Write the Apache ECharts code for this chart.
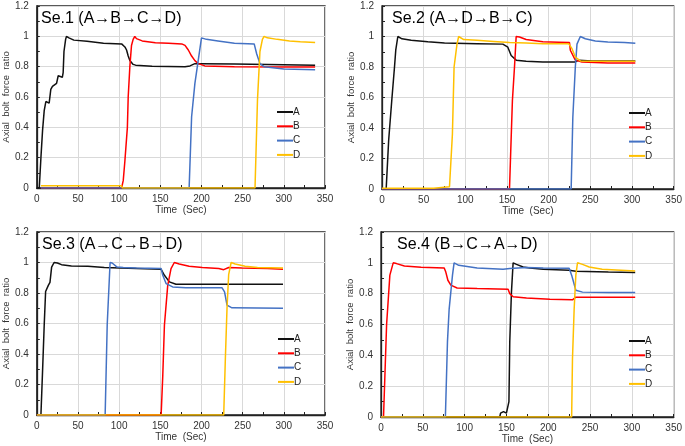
<!DOCTYPE html>
<html>
<head>
<meta charset="utf-8">
<script src="https://cdn.jsdelivr.net/npm/echarts@6/dist/echarts.min.js"></script>
<style>html,body{margin:0;padding:0;background:#fff;}#c{width:685px;height:446px;}</style>
</head>
<body>
<div id="c"></div>
<script>
// ---- data ----
const seriesNames = ['A', 'B', 'C', 'D'];
const panelTitles = ['Se.1 (A\u2192B\u2192C\u2192D)', 'Se.2 (A\u2192D\u2192B\u2192C)', 'Se.3 (A\u2192C\u2192B\u2192D)', 'Se.4 (B\u2192C\u2192A\u2192D)'];
const xName = 'Time  (Sec)';
const yName = 'Axial  bolt  force  ratio';

const s1A = [[0,0],[3,0],[5,0.2],[7,0.38],[9,0.51],[11,0.57],[13,0.57],[15,0.56],[17,0.65],[19,0.67],[21,0.68],[24,0.69],[26,0.74],[28,0.74],[31,0.73],[32,0.76],[33,0.9],[35,0.98],[36,1.0],[39,0.99],[45,0.975],[61,0.968],[81,0.955],[103,0.95],[107,0.93],[109,0.91],[111,0.87],[113,0.84],[117,0.815],[120,0.81],[140,0.803],[180,0.8],[186,0.805],[192,0.82],[200,0.82],[240,0.818],[280,0.815],[338,0.81]];
const s1B = [[5,0],[103,0],[105,0.05],[107,0.18],[109,0.18],[110,0.4],[111,0.6],[113,0.8],[115,0.94],[117,0.98],[119,1.0],[121,0.985],[128,0.97],[144,0.957],[160,0.955],[176,0.95],[180,0.94],[184,0.91],[188,0.87],[192,0.84],[196,0.82],[204,0.805],[240,0.8],[300,0.797],[338,0.797]];
const s1C = [[5,0],[185,0],[188,0.47],[192,0.69],[196,0.84],[200,0.99],[202,1.0],[206,0.98],[220,0.97],[240,0.955],[264,0.95],[267,0.885],[271,0.82],[276,0.8],[300,0.785],[338,0.78]];
const s1D = [[5,0.015],[103,0.015],[104,0],[265,0],[268,0.58],[271,0.9],[274,0.98],[276,1.0],[280,0.99],[292,0.98],[307,0.97],[320,0.965],[338,0.96]];

const s2A = [[0,0],[5,0],[8,0.32],[10,0.33],[12,0.6],[15,0.8],[16.5,0.91],[19,1.0],[24,0.985],[35,0.975],[55,0.965],[75,0.957],[114,0.953],[145,0.95],[151,0.93],[155,0.875],[161,0.845],[173,0.837],[193,0.833],[232,0.833],[236,0.845],[252,0.84],[304,0.84]];
const s2B = [[0,0],[153,0],[154.5,0.25],[156.5,0.58],[159,0.8],[161,1.0],[165,0.997],[173,0.98],[193,0.965],[212,0.963],[225,0.96],[226,0.91],[232,0.845],[240,0.833],[271,0.826],[304,0.826]];
const s2C = [[0,0],[227,0],[229,0.47],[232,0.8],[234,0.95],[238,1.0],[244,0.985],[256,0.97],[271,0.964],[291,0.96],[304,0.955]];
const s2D = [[0,0.005],[62,0.005],[63,0.015],[81,0.015],[84.5,0.36],[86.5,0.8],[90,0.95],[92,1.0],[98,0.98],[114,0.975],[134,0.968],[153,0.96],[173,0.957],[193,0.953],[224,0.953],[228,0.92],[232,0.865],[238,0.84],[252,0.837],[304,0.837]];

const s3A = [[0,0],[5,0],[6.8,0.26],[9,0.59],[10.7,0.81],[14,0.85],[16,0.87],[18,0.97],[21,1.0],[25,0.997],[30,0.986],[42,0.977],[62,0.975],[82,0.967],[121,0.96],[151,0.955],[155,0.916],[161,0.873],[169,0.857],[201,0.857],[299,0.857]];
const s3B = [[0,0],[151,0],[153,0.26],[155,0.59],[159,0.85],[163,0.96],[167,1.0],[173,0.99],[185,0.975],[201,0.967],[221,0.96],[227,0.953],[233,0.967],[249,0.964],[280,0.96],[299,0.955]];
const s3C = [[0,0],[83,0],[85.5,0.59],[89,1.0],[91.5,0.997],[97.5,0.97],[105,0.967],[121,0.964],[151,0.96],[153,0.916],[157,0.862],[165,0.84],[181,0.834],[225,0.834],[228,0.807],[231,0.72],[237,0.703],[299,0.70]];
const s3D = [[0,0],[227,0],[229,0.37],[231,0.7],[233,0.92],[236,1.0],[241,0.99],[253,0.975],[268,0.967],[299,0.964]];

const s4A = [[0,0],[142,0],[143,0.025],[146.5,0.035],[150,0.025],[152,0.035],[153,0.1],[154,0.49],[156,0.81],[158,1.0],[162,0.99],[170,0.973],[178,0.967],[194,0.958],[225,0.952],[233,0.945],[272,0.94],[304,0.937]];
const s4B = [[0,0],[3,0],[6.7,0.6],[10.6,0.92],[14.6,1.0],[18.5,0.995],[28,0.98],[48,0.971],[75.6,0.967],[77.5,0.94],[80,0.887],[83.5,0.855],[91,0.837],[115,0.833],[152,0.829],[154,0.8],[158,0.78],[174,0.772],[202,0.764],[229,0.76],[233,0.777],[304,0.777]];
const s4C = [[0,0],[77,0],[79.5,0.49],[81.5,0.7],[83.5,0.81],[85.5,0.92],[87.4,1.0],[93,0.984],[115,0.967],[146,0.958],[154,0.963],[174,0.969],[194,0.967],[225,0.965],[228,0.92],[233,0.822],[241,0.81],[272,0.807],[304,0.807]];
const s4D = [[0,0],[228,0],[229,0.38],[231,0.7],[233,0.92],[235,1.0],[241,0.99],[249,0.973],[264.5,0.958],[304,0.947]];

const panels = [[s1A, s1B, s1C, s1D], [s2A, s2B, s2C, s2D], [s3A, s3B, s3C, s3D], [s4A, s4B, s4C, s4D]];

// ---- layout / style ----
const colors = ['#111111', '#ff0000', '#4472c4', '#ffc000'];
const grids = [
  {left: 32, top: 6, width: 293, height: 182},
  {left: 382, top: 6, width: 296, height: 183},
  {left: 32, top: 232, width: 293, height: 183},
  {left: 381, top: 232, width: 296, height: 185}
];
const titlePos = [[41, 11], [392, 11], [42, 237], [397, 237]];
const legendPos = [[277, 107], [629, 108], [278, 334], [629, 336]];
const FONT = 'Liberation Sans, Arial, sans-serif';

const option = {
  animation: false,
  backgroundColor: '#fff',
  title: panelTitles.map((t, i) => ({
    text: t, left: titlePos[i][0], top: titlePos[i][1], padding: 0,
    textStyle: {fontFamily: FONT, fontSize: 16, fontWeight: 'normal', color: '#000'}
  })),
  legend: grids.map((g, i) => ({
    data: seriesNames, orient: 'vertical', left: legendPos[i][0], top: legendPos[i][1],
    icon: 'rect', itemWidth: 16, itemHeight: 2, itemGap: 4.3, padding: 0,
    selectedMode: false,
    textStyle: {fontFamily: FONT, fontSize: 10, color: '#222', padding: [0, 0, 0, -5]}
  })),
  grid: grids.map(g => Object.assign({show: true, borderColor: '#222', borderWidth: 1.3, backgroundColor: 'transparent'}, g)),
  xAxis: grids.map((g, i) => ({
    type: 'value', gridIndex: i, min: 0, max: 350, interval: 50,
    name: xName, nameLocation: 'middle', nameGap: 17,
    nameTextStyle: {fontFamily: FONT, fontSize: 10, color: '#333'},
    axisLine: {show: true, onZero: false, lineStyle: {color: '#222', width: 1.3}},
    axisTick: {show: true, inside: true, length: 3, lineStyle: {color: '#222'}},
    minorTick: {show: true, splitNumber: 2, length: 3, lineStyle: {color: '#222'}},
    axisLabel: {fontFamily: FONT, fontSize: 10, color: '#333', margin: 6},
    splitLine: {show: true, lineStyle: {color: '#d9d9d9', width: 1}}
  })),
  yAxis: grids.map((g, i) => ({
    type: 'value', gridIndex: i, min: 0, max: 1.2, interval: 0.2,
    name: yName, nameLocation: 'middle', nameGap: 22, nameRotate: 90,
    nameTextStyle: {fontFamily: FONT, fontSize: 9.5, color: '#333'},
    axisLine: {show: true, onZero: false, lineStyle: {color: '#222', width: 1.3}},
    axisTick: {show: true, inside: true, length: 3, lineStyle: {color: '#222'}},
    minorTick: {show: true, splitNumber: 2, length: 3, lineStyle: {color: '#222'}},
    axisLabel: {fontFamily: FONT, fontSize: 10, color: '#333', margin: 8,
      formatter: v => String(Math.round(v * 10) / 10)},
    splitLine: {show: true, lineStyle: {color: '#d9d9d9', width: 1}}
  })),
  series: []
};

panels.forEach((p, i) => {
  p.forEach((d, k) => {
    option.series.push({
      type: 'line', name: seriesNames[k], xAxisIndex: i, yAxisIndex: i,
      data: d, showSymbol: false, symbol: 'none',
      lineStyle: {color: colors[k], width: 1.5}, itemStyle: {color: colors[k]},
      z: 2 + k
    });
  });
});

const chart = echarts.init(document.getElementById('c'), null, {renderer: 'canvas'});
chart.setOption(option);
</script>
</body>
</html>
